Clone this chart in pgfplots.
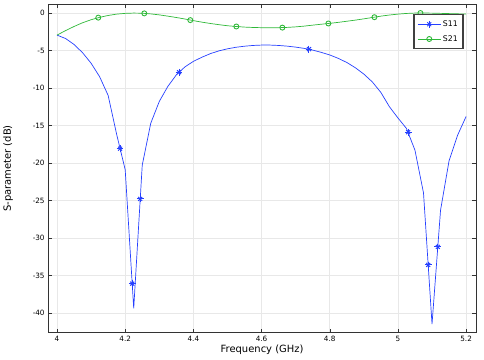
\documentclass[border=0pt]{standalone}
\usepackage{fontspec}
\setmainfont{DejaVu Sans}
\usepackage{pgfplots}
\pgfplotsset{compat=1.18}
\definecolor{sblue}{RGB}{38,64,255}
\definecolor{sgreen}{RGB}{46,184,56}
\begin{document}
\begin{tikzpicture}
\begin{axis}[
  scale only axis,
  width=428bp, height=329bp,
  xmin=3.974, xmax=5.229,
  ymin=-42.67, ymax=1.2,
  xtick={4,4.2,4.4,4.6,4.8,5,5.2},
  ytick={-40,-35,-30,-25,-20,-15,-10,-5,0},
  xticklabels={4,4.2,4.4,4.6,4.8,5,5.2},
  tick align=inside,
  tick pos=both,
  major tick length=4bp,
  grid=major,
  grid style={gray!18, line width=0.6pt},
  axis line style={black!80, line width=0.8pt},
  tick style={black!80},
  /pgf/number format/assume math mode=true,
  tick label style={font=\fontsize{7.3}{9}\selectfont},
  label style={font=\fontsize{6.9}{9}\selectfont},
  xlabel={Frequency (GHz)},
  ylabel={S-parameter (dB)},
  every axis x label/.style={at={(axis description cs:0.5,-0.052)}, anchor=center},
  every axis y label/.style={at={(axis description cs:-0.0935,0.5)}, rotate=90, anchor=center},
  legend style={at={(rel axis cs:0.972,0.97)}, anchor=north east,
    draw=black!75, line width=1.6pt, fill=white,
    font=\fontsize{7.8}{9}\selectfont, inner xsep=3.5pt, inner ysep=4pt, row sep=3.5pt},
  legend cell align=left,
]
% S11 line
\addplot[sblue, line width=0.7pt, forget plot] coordinates {
(4.000,-2.95) (4.025,-3.40) (4.050,-4.20) (4.075,-5.30) (4.100,-6.70)
(4.125,-8.50) (4.150,-11.0) (4.175,-16.2) (4.200,-20.9) (4.225,-39.4)
(4.250,-20.3) (4.275,-14.7) (4.300,-11.8) (4.325,-9.8) (4.350,-8.25)
(4.375,-7.20) (4.400,-6.45) (4.425,-5.90) (4.450,-5.42) (4.475,-5.05)
(4.500,-4.78) (4.525,-4.57) (4.550,-4.43) (4.575,-4.33) (4.600,-4.28)
(4.625,-4.28) (4.650,-4.33) (4.675,-4.42) (4.700,-4.55) (4.725,-4.72)
(4.750,-4.95) (4.775,-5.25) (4.800,-5.60) (4.825,-6.05) (4.850,-6.60)
(4.875,-7.30) (4.900,-8.15) (4.925,-9.20) (4.950,-10.6) (4.975,-12.5)
(5.000,-14.0) (5.025,-15.4) (5.050,-18.3) (5.075,-24.0) (5.100,-41.5)
(5.125,-26.3) (5.150,-19.7) (5.175,-16.3) (5.200,-13.8)
};
% S21 line
\addplot[sgreen, line width=0.7pt, forget plot] coordinates {
(4.000,-2.95) (4.025,-2.35) (4.050,-1.80) (4.075,-1.30) (4.100,-0.90)
(4.125,-0.58) (4.150,-0.33) (4.175,-0.15) (4.200,-0.05) (4.225,-0.01)
(4.250,-0.03) (4.275,-0.12) (4.300,-0.25) (4.325,-0.42) (4.350,-0.60)
(4.375,-0.80) (4.400,-1.02) (4.425,-1.22) (4.450,-1.40) (4.475,-1.56)
(4.500,-1.70) (4.525,-1.80) (4.550,-1.88) (4.575,-1.93) (4.600,-1.96)
(4.625,-1.97) (4.650,-1.96) (4.675,-1.92) (4.700,-1.85) (4.725,-1.75)
(4.750,-1.62) (4.775,-1.50) (4.800,-1.38) (4.825,-1.25) (4.850,-1.10)
(4.875,-0.95) (4.900,-0.78) (4.925,-0.60) (4.950,-0.42) (4.975,-0.27)
(5.000,-0.15) (5.025,-0.06) (5.050,-0.01) (5.075,0.00) (5.100,-0.02)
(5.125,-0.05) (5.150,-0.08) (5.175,-0.11) (5.200,-0.14)
};
% S11 markers (x part, no legend)
\addplot[sblue, only marks, mark=x, mark size=2.8pt, mark options={line width=1.0pt}, forget plot]
coordinates {
(4.185,-18.1) (4.2205,-36.1) (4.244,-24.8) (4.358,-7.9) (4.739,-4.82)
(5.030,-15.9) (5.0887,-33.6) (5.117,-31.2)
};
% S11 markers (+ part, with legend)
\addplot[sblue, only marks, mark=+, mark size=3.4pt, mark options={line width=1.0pt},
  legend image code/.code={%
    \draw[sblue, line width=0.7pt] (0cm,0cm) -- (0.8cm,0cm);
    \draw[sblue, only marks, mark=x, mark size=2.8pt, mark options={line width=1.0pt}] plot coordinates {(0.4cm,0cm)};
    \draw[sblue, only marks, mark=+, mark size=3.4pt, mark options={line width=1.0pt}] plot coordinates {(0.4cm,0cm)};}]
coordinates {
(4.185,-18.1) (4.2205,-36.1) (4.244,-24.8) (4.358,-7.9) (4.739,-4.82)
(5.030,-15.9) (5.0887,-33.6) (5.117,-31.2)
};
\addlegendentry{S11}
% S21 markers
\addplot[sgreen, only marks, mark=o, mark size=2.5pt, mark options={line width=0.9pt},
  legend image code/.code={%
    \draw[sgreen, line width=0.7pt] (0cm,0cm) -- (0.8cm,0cm);
    \draw[sgreen, only marks, mark=o, mark size=2.5pt, mark options={line width=0.9pt}] plot coordinates {(0.4cm,0cm)};}]
coordinates {
(4.121,-0.62) (4.256,-0.05) (4.391,-0.95) (4.526,-1.80) (4.661,-1.95)
(4.796,-1.40) (4.931,-0.56) (5.066,0.00)
};
\addlegendentry{S21}
\end{axis}
\path ([shift={(-48bp,-27bp)}]current axis.south west) rectangle ([shift={(8bp,4bp)}]current axis.north east);
\end{tikzpicture}
\end{document}
